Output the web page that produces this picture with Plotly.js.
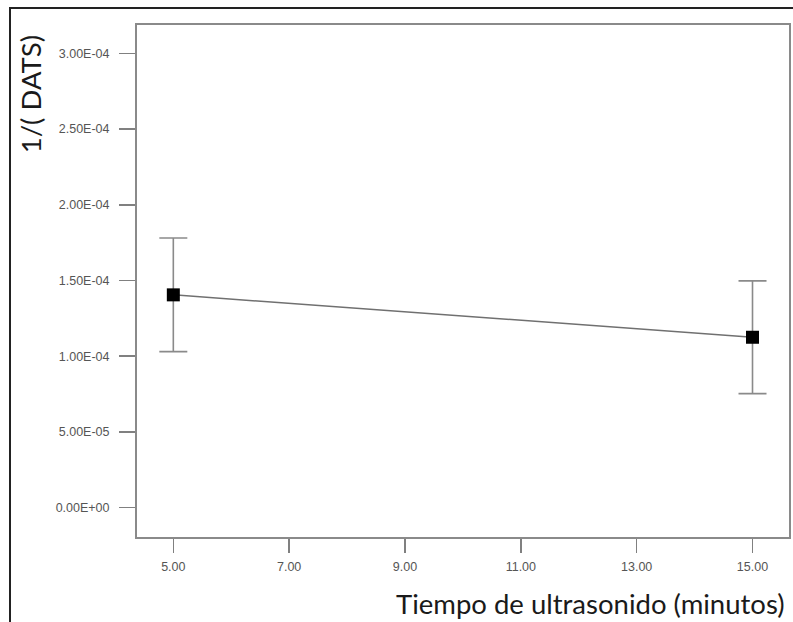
<!DOCTYPE html>
<html>
<head>
<meta charset="utf-8">
<script src="https://cdn.plot.ly/plotly-3.0.1.min.js"></script>
<style>
  html, body { margin: 0; padding: 0; background: #fff; }
  #wrap { position: relative; width: 793px; height: 622px; }
  #chart { position: absolute; left: 0; top: 0; width: 793px; height: 622px; }
  #frame { position: absolute; left: 9px; top: 7px; width: 800px; height: 640px;
           border-top: 2px solid #222; border-left: 2px solid #222; pointer-events: none; }
</style>
</head>
<body>
<div id="wrap">
  <div id="chart"></div>
  <div id="frame"></div>
</div>
<script>
// Data
const tiempo = [5, 15];
const invDATS = [1.405e-4, 1.125e-4];
const errorDATS = [0.375e-4, 0.372e-4];

const xTickVals = [5, 7, 9, 11, 13, 15];
const xTickText = ["5.00", "7.00", "9.00", "11.00", "13.00", "15.00"];
const yTickVals = [0, 5e-5, 1e-4, 1.5e-4, 2e-4, 2.5e-4, 3e-4];
const yTickText = ["0.00E+00", "5.00E-05", "1.00E-04", "1.50E-04", "2.00E-04", "2.50E-04", "3.00E-04"];

const xTitle = "Tiempo de ultrasonido (minutos)";
const yTitle = "1/( DATS)";

const trace = {
  x: tiempo,
  y: invDATS,
  type: "scatter",
  mode: "lines+markers",
  line: { color: "#707070", width: 1.5 },
  marker: { symbol: "square", size: 13, color: "#000" },
  error_y: { type: "data", array: errorDATS, visible: true, color: "#8a8a8a", thickness: 1.6, width: 14 },
  showlegend: false,
  hoverinfo: "none"
};

const tickFont = { family: "Liberation Sans, Arial, sans-serif", size: 12.5, color: "#555" };
const titleFont = { family: "Lato, Open Sans, sans-serif", size: 27.5, color: "#1a1a1a" };

const layout = {
  width: 793, height: 622,
  margin: { l: 137, r: 4, t: 25, b: 85 },
  paper_bgcolor: "#fff",
  plot_bgcolor: "#fff",
  xaxis: {
    range: [4.373, 15.63],
    tickmode: "array", tickvals: xTickVals, ticktext: xTickText,
    ticks: "outside", ticklen: 14, tickwidth: 1.5, tickcolor: "#808080",
    ticklabelstandoff: 3,
    showgrid: false, zeroline: false,
    showline: true, linecolor: "#8a8a8a", linewidth: 2, mirror: true,
    tickfont: tickFont
  },
  yaxis: {
    range: [-0.194e-4, 3.187e-4],
    tickmode: "array", tickvals: yTickVals, ticktext: yTickText,
    ticks: "outside", ticklen: 16, tickwidth: 1.5, tickcolor: "#808080",
    ticklabelstandoff: 7,
    showgrid: false, zeroline: false,
    showline: true, linecolor: "#8a8a8a", linewidth: 2, mirror: true,
    tickfont: tickFont
  },
  annotations: [
    { text: xTitle, xref: "paper", yref: "paper", x: 0.997, y: -0.129,
      xanchor: "right", yanchor: "middle", showarrow: false, font: titleFont },
    { text: yTitle, xref: "paper", yref: "paper", x: -0.164, y: 0.984,
      xanchor: "center", yanchor: "top", textangle: -90, showarrow: false, font: titleFont }
  ]
};

Plotly.newPlot("chart", [trace], layout, { displayModeBar: false, staticPlot: true });
</script>
</body>
</html>
